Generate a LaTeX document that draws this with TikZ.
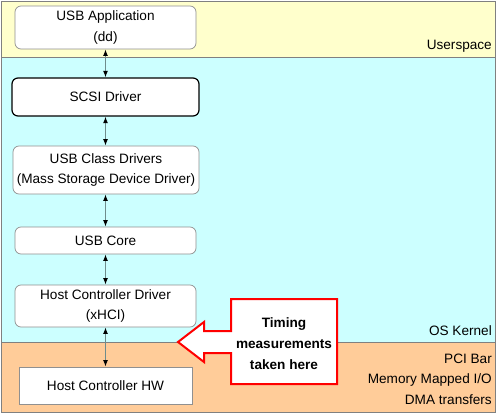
\documentclass[tikz,border=0pt]{standalone}
\usepackage{fontspec}
\setmainfont{Liberation Sans}
\usetikzlibrary{arrows.meta}
\definecolor{userbg}{HTML}{FFFFCC}
\definecolor{kernbg}{HTML}{CCFFFF}
\definecolor{pcibg}{HTML}{FFCC99}
\definecolor{framegray}{HTML}{808080}
\definecolor{boxgray}{HTML}{909090}
\definecolor{linkgray}{HTML}{6E8C8C}
\tikzset{
  band/.style={draw=framegray, line width=0.8pt},
  layerbox/.style={draw=boxgray, fill=white, rounded corners=6pt, line width=0.7pt,
    align=center, inner sep=0pt, font=\fontsize{13.6}{20.5}\selectfont},
  hwbox/.style={draw=boxgray, fill=white, line width=0.7pt, align=center, inner sep=0pt,
    font=\fontsize{13.6}{20.5}\selectfont},
  link/.style={draw=linkgray, line width=1.3pt, {Latex[length=6.5pt,width=5pt,color=black]}-{Latex[length=6.5pt,width=5pt,color=black]}},
  lbl/.style={anchor=base east, inner sep=0pt, font=\fontsize{13.6}{15}\selectfont},
  callout/.style={draw=red, fill=white, line width=2pt, line join=miter},
}
\begin{document}
\begin{tikzpicture}[x=1pt,y=-1pt]
\useasboundingbox (0,0) rectangle (500,414);
% bands
\fill[userbg] (1.5,1) rectangle (495.5,57);
\fill[kernbg] (1.5,57) rectangle (495.5,342);
\fill[pcibg] (1.5,342) rectangle (495.5,412.5);
\draw[band] (1.5,57) -- (495.5,57);
\draw[band] (1.5,342) -- (495.5,342);
\draw[band] (1.5,1) rectangle (495.5,412.5);
% boxes
\node[layerbox, minimum width=181pt, minimum height=43pt] (app) at (105.5,27.5) {USB Application\\(dd)};
\node[layerbox, draw=black, line width=1.2pt, minimum width=187pt, minimum height=38pt] (scsi) at (105.5,97) {SCSI Driver};
\node[layerbox, minimum width=186pt, minimum height=48pt] (cls) at (106,170) {USB Class Drivers\\(Mass Storage Device Driver)};
\node[layerbox, minimum width=181pt, minimum height=27pt] (core) at (105.5,240.5) {USB Core};
\node[layerbox, minimum width=181pt, minimum height=42pt] (hcd) at (105.5,306) {Host Controller Driver\\(xHCI)};
\node[hwbox, minimum width=173pt, minimum height=37pt] (hw) at (105.5,385.5) {Host Controller HW};
% links
\draw[link] (app.south) -- (scsi.north);
\draw[link] (scsi.south) -- (cls.north -| scsi.south);
\draw[link] (cls.south -| scsi.south) -- (core.north);
\draw[link] (core.south) -- (hcd.north);
\draw[link] (hcd.south) -- (hw.north);
% callout
\draw[callout] (178,342) -- (204,322) -- (204,331) -- (231,331) -- (231,299) -- (337,299)
  -- (337,384) -- (231,384) -- (231,353) -- (204,353) -- (204,362) -- cycle;
\node[align=center, font=\fontsize{13.6}{21}\selectfont\bfseries] (note) at (284,344) {Timing\\measurements\\taken here};
% labels
\node[lbl] (us) at (492,49.5) {Userspace};
\node[lbl] (os) at (492,335.5) {OS Kernel};
\node[lbl] (pci) at (492,363) {PCI Bar};
\node[lbl] (mmio) at (492,383.5) {Memory Mapped I/O};
\node[lbl] (dma) at (492,404) {DMA transfers};
\end{tikzpicture}
\end{document}
